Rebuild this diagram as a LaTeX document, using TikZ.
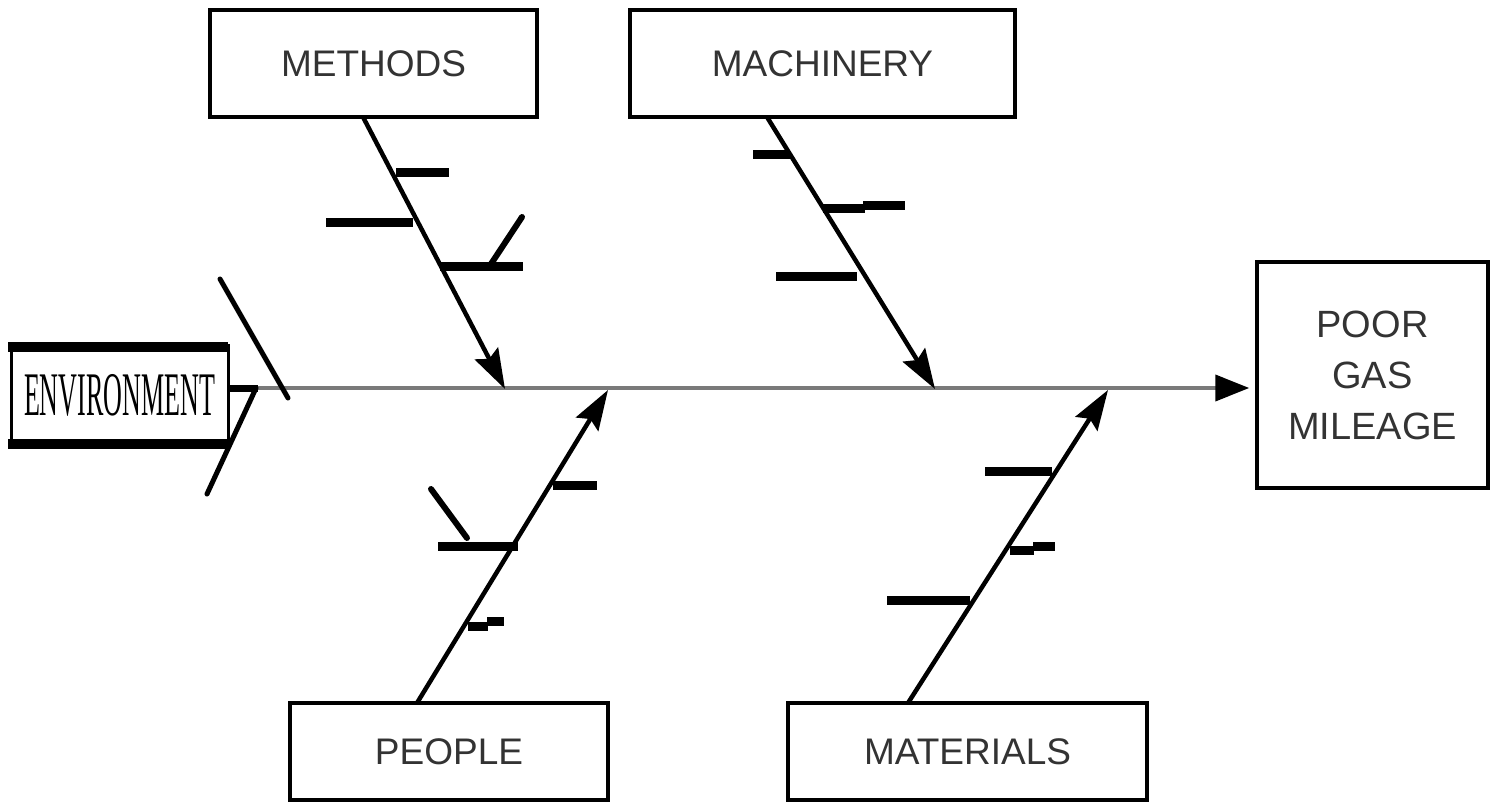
\documentclass[tikz,border=0pt]{standalone}
\usepackage{fontspec}
\setmainfont{Liberation Sans}
\newfontfamily\serifenv{Liberation Serif}
\usetikzlibrary{arrows.meta}
\definecolor{txt}{HTML}{333333}
\definecolor{spinec}{HTML}{7A7A7A}
\tikzset{
  catbox/.style={draw=black, line width=3.5pt, inner sep=0pt, text=txt,
    font=\fontsize{37}{44}\selectfont},
  branch/.style={line width=4.5pt, -{Stealth[length=40pt,width=26pt,inset=6pt]}},
  bone/.style={line width=9pt},
  thinbone/.style={line width=6pt},
}
\begin{document}
\begin{tikzpicture}[x=1pt,y=-1pt]
\useasboundingbox (0,0) rectangle (1497,803);
% category boxes
\node[catbox, minimum width=327pt, minimum height=107pt] (methods) at (373.5,63.5) {METHODS};
\node[catbox, minimum width=385pt, minimum height=107pt] (machinery) at (822.5,63.5) {MACHINERY};
\node[catbox, minimum width=318pt, minimum height=97pt] (people) at (449,751.5) {PEOPLE};
\node[catbox, minimum width=359pt, minimum height=97pt] (materials) at (967.5,751.5) {MATERIALS};
\node[catbox, minimum width=231pt, minimum height=226pt, align=center,
      font=\fontsize{38}{51}\selectfont] (effect) at (1372.5,375) {POOR\\GAS\\MILEAGE};
% environment box
\node[draw=black, line width=3pt, minimum width=217pt, minimum height=100pt, inner sep=0pt]
  (env) at (119.5,395) {\serifenv\scalebox{0.42}[1]{\fontsize{62}{62}\selectfont ENVIRONMENT}};
\draw[line width=10pt] (env.north west) ++(-1.5,3) -- ++(220,0);
\draw[line width=10pt] (env.south west) ++(-1.5,-3) -- ++(220,0);
% spine
\coordinate (s0) at (258,388);
\draw[line width=4pt, spinec, shorten >=6pt, -{Triangle[length=34pt,width=26pt,color=black]}] (s0) -- (effect.west |- s0);
\draw[line width=7pt] (env.east |- s0) -- (s0);
% environment bones
\coordinate (e1) at (220,279);
\coordinate (e2) at (288,398);
\draw[line width=5pt, line cap=round] (e1) -- (e2);
\coordinate (e3) at (256,388);
\coordinate (e4) at (251,399);
\coordinate (e5) at (207,494);
\draw[line width=5pt, line cap=round, line join=round] (e3) -- (e4) -- (e5);
% methods branch
\coordinate (m0) at (363,117);
\coordinate (m1) at (505,389);
\draw[branch] (m0) -- (m1);
\draw[bone] (396,172) -- (449,172);
\draw[bone] (326,222) -- (413,222);
\draw[bone] (440,266) -- (523,266);
\draw[thinbone, line cap=round] (491,264) -- (522,217);
% machinery branch
\coordinate (c0) at (767,117);
\coordinate (c1) at (935,389);
\draw[branch] (c0) -- (c1);
\draw[bone] (753,154) -- (790,154);
\draw[bone] (823,208) -- (865,208);
\draw[bone] (863,205) -- (905,205);
\draw[bone] (776,276) -- (857,276);
% people branch
\coordinate (p0) at (417,703);
\coordinate (p1) at (608,390);
\draw[branch] (p0) -- (p1);
\draw[bone] (553,485) -- (597,485);
\draw[bone] (438,546) -- (518,546);
\draw[thinbone, line cap=round] (431,489) -- (467,538);
\draw[bone] (468,626) -- (488,626);
\draw[bone] (487,621) -- (504,621);
% materials branch
\coordinate (t0) at (908,703);
\coordinate (t1) at (1108,390);
\draw[branch] (t0) -- (t1);
\draw[bone] (985,471) -- (1052,471);
\draw[bone] (1010,550) -- (1034,550);
\draw[bone] (1033,546) -- (1055,546);
\draw[bone] (887,600) -- (970,600);
\end{tikzpicture}
\end{document}
